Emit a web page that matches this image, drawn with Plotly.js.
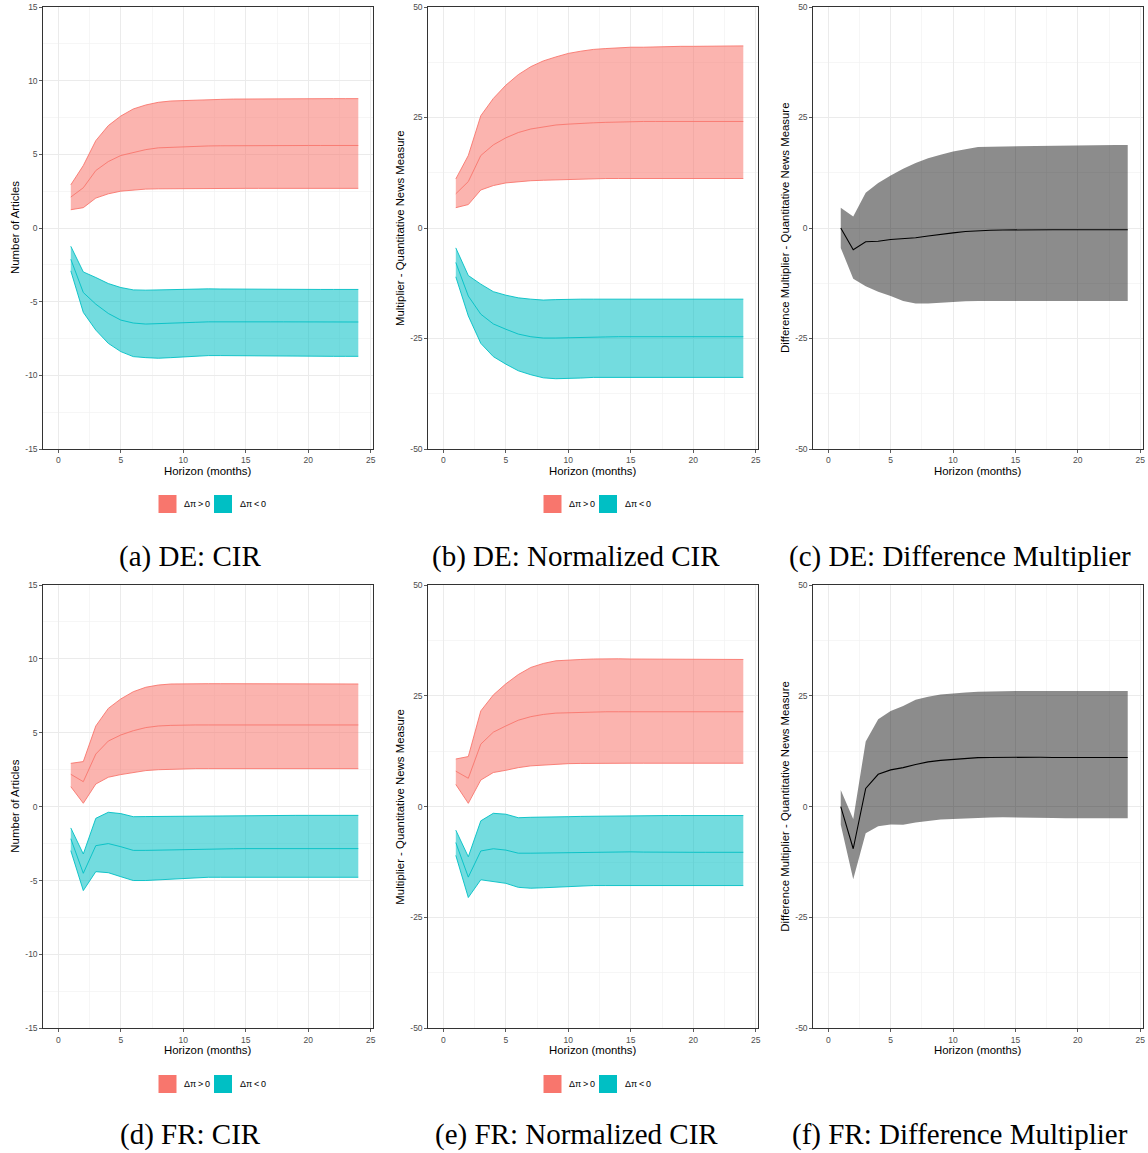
<!DOCTYPE html>
<html>
<head>
<meta charset="utf-8">
<script src="https://cdn.plot.ly/plotly-3.0.1.min.js"></script>
<style>
  html, body { margin: 0; padding: 0; background: #ffffff; }
  #chart { width: 1148px; height: 1153px; }
</style>
</head>
<body>
<div id="chart"></div>
<script>
// Horizon (months)
const horizon = [1,2,3,4,5,6,7,8,9,10,11,12,13,14,15,16,17,18,19,20,21,22,23,24];

// Tick labels
const xTickVals = [0,5,10,15,20,25];
const yTickValsCIR = [-15,-10,-5,0,5,10,15];
const yTickTextCIR = ["-15","-10","-5","0","5","10","15"];
const yTickValsMult = [-50,-25,0,25,50];
const yTickTextMult = ["-50","-25","0","25","50"];

// (a) DE: CIR
const aPosUpper = [2.93,4.24,5.93,6.95,7.60,8.08,8.35,8.53,8.62,8.66,8.69,8.71,8.73,8.75,8.76,8.77,8.77,8.78,8.78,8.78,8.78,8.78,8.78,8.78];
const aPosMid   = [2.10,2.73,3.90,4.51,4.92,5.14,5.32,5.44,5.48,5.53,5.55,5.57,5.58,5.59,5.60,5.60,5.60,5.60,5.60,5.60,5.60,5.60,5.60,5.60];
const aPosLower = [1.24,1.38,2.03,2.32,2.50,2.59,2.64,2.66,2.67,2.68,2.68,2.68,2.69,2.69,2.69,2.69,2.69,2.69,2.69,2.69,2.69,2.69,2.69,2.69];
const aNegUpper = [-1.24,-2.98,-3.36,-3.77,-4.04,-4.20,-4.22,-4.20,-4.16,-4.13,-4.13,-4.13,-4.14,-4.15,-4.16,-4.16,-4.16,-4.17,-4.17,-4.17,-4.17,-4.17,-4.17,-4.17];
const aNegMid   = [-2.12,-4.38,-5.17,-5.80,-6.25,-6.45,-6.52,-6.50,-6.46,-6.43,-6.40,-6.37,-6.36,-6.36,-6.36,-6.37,-6.37,-6.37,-6.38,-6.38,-6.38,-6.38,-6.38,-6.38];
const aNegLower = [-2.91,-5.73,-6.93,-7.83,-8.39,-8.73,-8.80,-8.84,-8.80,-8.75,-8.70,-8.66,-8.66,-8.67,-8.68,-8.69,-8.70,-8.70,-8.70,-8.71,-8.71,-8.71,-8.71,-8.71];

// (b) DE: Normalized CIR
const bPosUpper = [11.1,16.4,25.4,29.3,32.3,34.7,36.5,37.8,38.7,39.5,40.0,40.4,40.6,40.8,40.9,40.9,41.0,41.0,41.1,41.1,41.1,41.2,41.2,41.2];
const bPosMid   = [7.74,10.5,16.4,18.8,20.4,21.6,22.4,22.9,23.3,23.5,23.7,23.8,23.9,24.0,24.1,24.1,24.1,24.1,24.1,24.1,24.1,24.1,24.1,24.1];
const bPosLower = [4.6,5.3,8.6,9.6,10.2,10.5,10.7,10.8,10.9,11.05,11.1,11.2,11.2,11.2,11.2,11.2,11.2,11.2,11.2,11.2,11.2,11.2,11.2,11.2];
const bNegUpper = [-4.5,-10.75,-12.7,-14.4,-15.2,-15.8,-16.1,-16.3,-16.2,-16.1,-16.1,-16.1,-16.1,-16.1,-16.1,-16.1,-16.1,-16.1,-16.1,-16.1,-16.1,-16.1,-16.1,-16.1];
const bNegMid   = [-7.8,-15.4,-19.5,-21.7,-22.9,-24.0,-24.6,-24.9,-24.9,-24.8,-24.75,-24.7,-24.65,-24.6,-24.6,-24.6,-24.6,-24.6,-24.6,-24.6,-24.6,-24.6,-24.6,-24.6];
const bNegLower = [-11.05,-19.9,-26.1,-29.1,-30.8,-32.3,-33.2,-33.9,-34.1,-34.1,-33.95,-33.8,-33.8,-33.8,-33.8,-33.8,-33.8,-33.8,-33.8,-33.8,-33.8,-33.8,-33.8,-33.8];

// (c) DE: Difference Multiplier
const cUpper = [4.6,2.6,8.0,10.2,11.9,13.4,14.7,15.8,16.6,17.3,17.8,18.3,18.4,18.45,18.5,18.5,18.6,18.6,18.7,18.8,18.8,18.8,18.8,18.8];
const cMid   = [0,-4.9,-3.1,-3.0,-2.6,-2.4,-2.2,-1.8,-1.4,-1.1,-0.8,-0.6,-0.5,-0.45,-0.4,-0.4,-0.4,-0.4,-0.4,-0.4,-0.4,-0.4,-0.4,-0.4];
const cLower = [-4.5,-11.5,-13.2,-14.4,-15.4,-16.5,-17.1,-17.1,-16.9,-16.7,-16.6,-16.5,-16.5,-16.5,-16.5,-16.5,-16.5,-16.5,-16.5,-16.5,-16.5,-16.5,-16.5,-16.5];

// (d) FR: CIR
const dPosUpper = [2.93,3.05,5.46,6.65,7.29,7.78,8.08,8.23,8.30,8.32,8.32,8.32,8.32,8.32,8.31,8.31,8.30,8.30,8.30,8.30,8.30,8.30,8.30,8.30];
const dPosMid   = [2.19,1.69,3.56,4.44,4.85,5.14,5.35,5.46,5.50,5.53,5.53,5.53,5.53,5.53,5.53,5.53,5.53,5.53,5.53,5.53,5.53,5.53,5.53,5.53];
const dPosLower = [1.35,0.23,1.53,1.99,2.17,2.32,2.44,2.50,2.54,2.57,2.57,2.57,2.57,2.57,2.57,2.57,2.57,2.57,2.57,2.57,2.57,2.57,2.57,2.57];
const dNegUpper = [-1.44,-3.20,-0.79,-0.38,-0.47,-0.68,-0.67,-0.66,-0.65,-0.65,-0.64,-0.63,-0.62,-0.61,-0.60,-0.59,-0.59,-0.59,-0.59,-0.59,-0.59,-0.59,-0.59,-0.59];
const dNegMid   = [-2.17,-4.51,-2.64,-2.50,-2.71,-2.96,-2.96,-2.94,-2.92,-2.89,-2.88,-2.87,-2.86,-2.85,-2.84,-2.84,-2.84,-2.84,-2.84,-2.84,-2.84,-2.84,-2.84,-2.84];
const dNegLower = [-2.98,-5.68,-4.40,-4.47,-4.74,-5.00,-5.00,-4.96,-4.90,-4.85,-4.80,-4.78,-4.78,-4.78,-4.78,-4.78,-4.78,-4.78,-4.78,-4.78,-4.78,-4.78,-4.78,-4.78];

// (e) FR: Normalized CIR
const ePosUpper = [10.75,11.3,21.6,25.2,27.7,29.8,31.4,32.3,32.9,33.1,33.2,33.3,33.4,33.35,33.3,33.3,33.25,33.2,33.2,33.2,33.2,33.2,33.2,33.2];
const ePosMid   = [8.0,6.4,14.1,16.8,18.2,19.5,20.3,20.8,21.1,21.2,21.3,21.35,21.4,21.4,21.4,21.4,21.4,21.4,21.4,21.4,21.4,21.4,21.4,21.4];
const ePosLower = [5.0,0.75,6.0,7.7,8.2,8.8,9.2,9.4,9.5,9.7,9.75,9.8,9.8,9.8,9.8,9.8,9.8,9.8,9.8,9.8,9.8,9.8,9.8,9.8];
const eNegUpper = [-5.3,-11.3,-3.2,-1.5,-1.7,-2.5,-2.4,-2.3,-2.3,-2.26,-2.2,-2.15,-2.1,-2.05,-2.0,-2.0,-2.0,-2.0,-2.0,-2.0,-2.0,-2.0,-2.0,-2.0];
const eNegMid   = [-8.1,-15.9,-10.0,-9.5,-9.8,-10.5,-10.5,-10.45,-10.4,-10.4,-10.35,-10.3,-10.25,-10.2,-10.2,-10.25,-10.3,-10.3,-10.3,-10.3,-10.3,-10.3,-10.3,-10.3];
const eNegLower = [-11.0,-20.5,-16.5,-16.9,-17.3,-18.2,-18.4,-18.3,-18.15,-18.0,-17.9,-17.8,-17.8,-17.8,-17.8,-17.8,-17.8,-17.8,-17.8,-17.8,-17.8,-17.8,-17.8,-17.8];

// (f) FR: Difference Multiplier
const fUpper = [3.76,-2.8,14.7,19.7,21.6,22.7,24.1,24.8,25.3,25.6,25.75,25.9,26.0,26.05,26.1,26.1,26.1,26.1,26.1,26.1,26.1,26.1,26.1,26.1];
const fMid   = [0,-9.5,4.1,7.3,8.3,8.8,9.5,10.1,10.45,10.7,10.9,11.05,11.1,11.15,11.2,11.2,11.15,11.1,11.1,11.1,11.1,11.1,11.1,11.1];
const fLower = [-4.1,-16.4,-6.0,-4.4,-4.0,-4.1,-3.6,-3.2,-2.9,-2.8,-2.65,-2.5,-2.45,-2.4,-2.4,-2.45,-2.5,-2.55,-2.6,-2.6,-2.6,-2.6,-2.6,-2.6];

// Text
const captions = ["(a) DE: CIR","(b) DE: Normalized CIR","(c) DE: Difference Multiplier",
                  "(d) FR: CIR","(e) FR: Normalized CIR","(f) FR: Difference Multiplier"];
const yTitles = ["Number of Articles","Multiplier - Quantitative News Measure","Difference Multiplier - Quantitative News Measure",
                 "Number of Articles","Multiplier - Quantitative News Measure","Difference Multiplier - Quantitative News Measure"];
const xTitle = "Horizon (months)";
const legendLabels = ["Δπ\u2009>\u20090","Δπ\u2009<\u20090"];

const RED = "#F8766D", TEAL = "#00BFC4";
const RED_FILL = "rgba(248,118,109,0.55)", TEAL_FILL = "rgba(0,191,196,0.55)", GREY_FILL = "rgba(0,0,0,0.45)";

const traces = [];
function ribbon(ax, lower, mid, upper, col, fill, edge) {
  const xa = "x" + ax, ya = "y" + ax;
  const lw = edge ? 0.9 : 0;
  traces.push({x: horizon, y: lower, xaxis: xa, yaxis: ya, type: "scatter", mode: "lines",
    line: {color: edge ? col : "rgba(0,0,0,0)", width: lw}, hoverinfo: "skip", showlegend: false});
  traces.push({x: horizon, y: upper, xaxis: xa, yaxis: ya, type: "scatter", mode: "lines", fill: "tonexty",
    fillcolor: fill, line: {color: edge ? col : "rgba(0,0,0,0)", width: lw}, hoverinfo: "skip", showlegend: false});
  traces.push({x: horizon, y: mid, xaxis: xa, yaxis: ya, type: "scatter", mode: "lines",
    line: {color: col, width: edge ? 0.9 : 1.1}, hoverinfo: "skip", showlegend: false});
}
ribbon("", aPosLower, aPosMid, aPosUpper, RED, RED_FILL, true);
ribbon("", aNegLower, aNegMid, aNegUpper, TEAL, TEAL_FILL, true);
ribbon("2", bPosLower, bPosMid, bPosUpper, RED, RED_FILL, true);
ribbon("2", bNegLower, bNegMid, bNegUpper, TEAL, TEAL_FILL, true);
ribbon("3", cLower, cMid, cUpper, "#000000", GREY_FILL, false);
ribbon("4", dPosLower, dPosMid, dPosUpper, RED, RED_FILL, true);
ribbon("4", dNegLower, dNegMid, dNegUpper, TEAL, TEAL_FILL, true);
ribbon("5", ePosLower, ePosMid, ePosUpper, RED, RED_FILL, true);
ribbon("5", eNegLower, eNegMid, eNegUpper, TEAL, TEAL_FILL, true);
ribbon("6", fLower, fMid, fUpper, "#000000", GREY_FILL, false);

const W = 1148, H = 1153;
const colPx = [[43.3, 373.3], [428.3, 758.3], [813.3, 1142.7]];
const rowPx = [[7, 449], [585, 1028.3]];
const fontSans = "Liberation Sans, Arial, sans-serif";

const layout = {
  width: W, height: H,
  margin: {l: 0, r: 0, t: 0, b: 0},
  paper_bgcolor: "#ffffff", plot_bgcolor: "#ffffff",
  showlegend: false,
  annotations: [], shapes: []
};

function axisBase() {
  return {
    showline: true, mirror: true, linecolor: "#333333", linewidth: 1,
    ticks: "outside", ticklen: 3, tickwidth: 0.8, tickcolor: "#333333",
    showgrid: true, gridcolor: "#EBEBEB", gridwidth: 1,
    zeroline: false, fixedrange: true,
    tickfont: {family: fontSans, size: 8.5, color: "#4D4D4D"}
  };
}

for (let i = 0; i < 6; i++) {
  const r = Math.floor(i / 3), c = i % 3;
  const suf = i === 0 ? "" : String(i + 1);
  const xa = axisBase(), ya = axisBase();
  xa.domain = [colPx[c][0] / W, colPx[c][1] / W];
  xa.range = [-1.2, 25.2];
  xa.tickmode = "array"; xa.tickvals = xTickVals; xa.ticktext = xTickVals.map(String);
  xa.minor = {tick0: 0, dtick: 2.5, showgrid: true, gridcolor: "#F2F2F2", gridwidth: 0.7, ticks: ""};
  xa.anchor = "y" + suf;
  ya.domain = [1 - rowPx[r][1] / H, 1 - rowPx[r][0] / H];
  const small = (c === 0);
  ya.range = small ? [-15, 15] : [-50, 50];
  ya.tickmode = "array";
  ya.tickvals = small ? yTickValsCIR : yTickValsMult;
  ya.ticktext = small ? yTickTextCIR : yTickTextMult;
  ya.minor = {tick0: 0, dtick: small ? 2.5 : 12.5, showgrid: true, gridcolor: "#F2F2F2", gridwidth: 0.7, ticks: ""};
  ya.anchor = "x" + suf;
  layout["xaxis" + suf] = xa;
  layout["yaxis" + suf] = ya;

  const xcen = (colPx[c][0] + colPx[c][1]) / 2;
  // x title
  layout.annotations.push({text: xTitle, xref: "paper", yref: "paper",
    x: xcen / W, y: 1 - (rowPx[r][1] + 21.5) / H, xanchor: "center", yanchor: "middle",
    showarrow: false, font: {family: fontSans, size: 11.4, color: "#000000"}});
  // y title
  const ytx = [15, 400, 785][c];
  layout.annotations.push({text: yTitles[i], xref: "paper", yref: "paper", textangle: -90,
    x: ytx / W, y: 1 - ((rowPx[r][0] + rowPx[r][1]) / 2) / H, xanchor: "center", yanchor: "middle",
    showarrow: false, font: {family: fontSans, size: 11.4, color: "#000000"}});
  // caption
  const capCx = [190, 576, 960][c];
  const capY = r === 0 ? 556 : 1134;
  layout.annotations.push({text: captions[i], xref: "paper", yref: "paper",
    x: capCx / W, y: 1 - capY / H, xanchor: "center", yanchor: "middle",
    showarrow: false, font: {family: "Liberation Serif, Times New Roman, serif", size: 29, color: "#000000"}});

  // legend for ribbon panels
  if (c < 2) {
    const off = c * 385;
    const ly = r === 0 ? 504 : 1084;
    const keys = [[158.5, RED, legendLabels[0], 181.5], [214, TEAL, legendLabels[1], 237.5]];
    keys.forEach(k => {
      layout.shapes.push({type: "rect", xref: "paper", yref: "paper",
        x0: (k[0] + off) / W, x1: (k[0] + off + 18) / W,
        y0: 1 - (ly - 9) / H, y1: 1 - (ly + 9) / H,
        fillcolor: k[1], line: {width: 0}});
      layout.annotations.push({text: k[2], xref: "paper", yref: "paper",
        x: (k[3] + off) / W, y: 1 - ly / H, xanchor: "left", yanchor: "middle",
        showarrow: false, font: {family: fontSans, size: 9, color: "#000000"}});
    });
  }
}

Plotly.newPlot("chart", traces, layout, {displayModeBar: false, staticPlot: true});
</script>
</body>
</html>
